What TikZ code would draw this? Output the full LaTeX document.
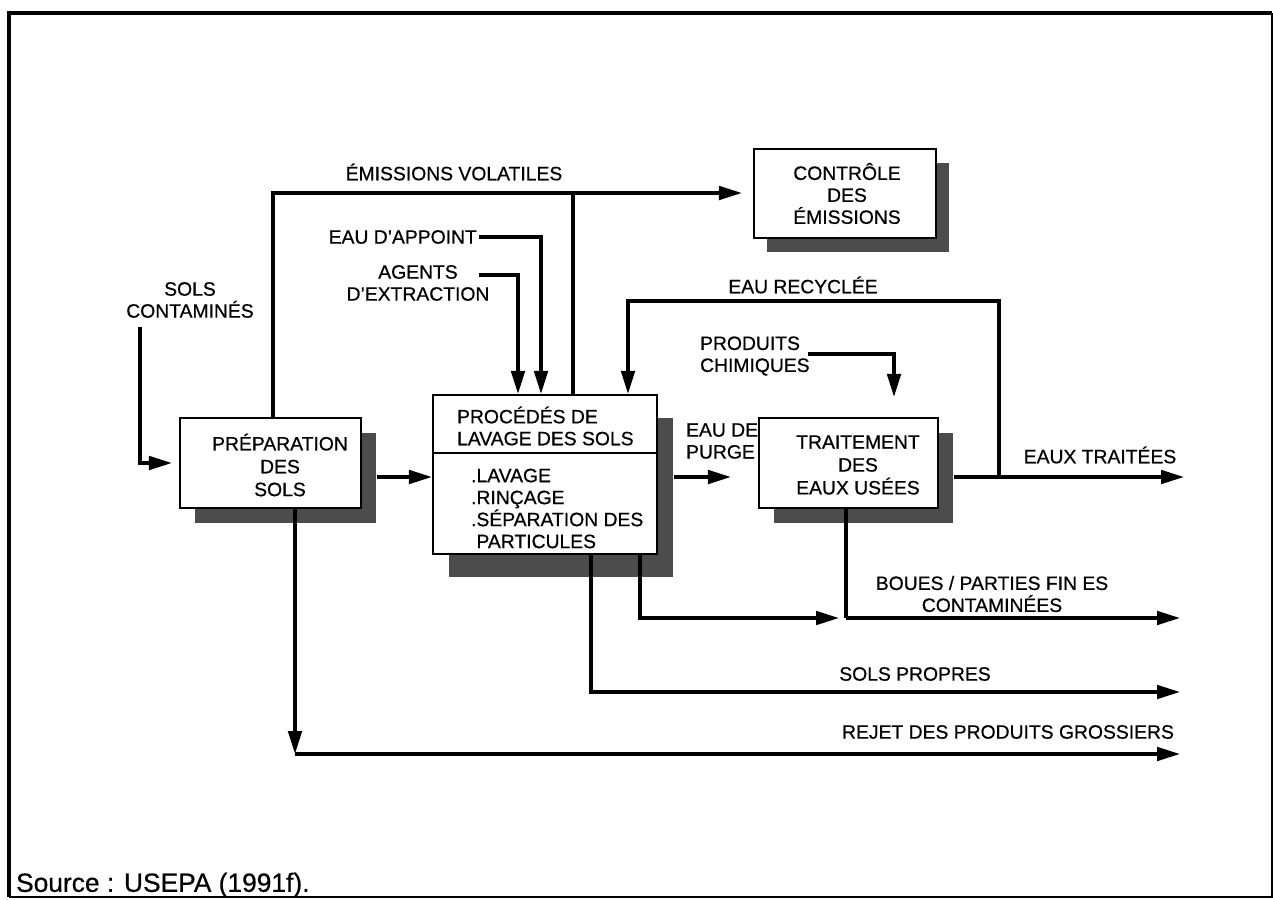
\documentclass[tikz,border=0pt]{standalone}
\usepackage{fontspec}
\setmainfont{Liberation Sans}[FakeBold=0.6]
\usepackage{tikz}
\usetikzlibrary{arrows.meta,shadows,calc}

\begin{document}
\begin{tikzpicture}[x=0.02cm, y=-0.02cm,
  boite/.style={rectangle, draw, line width=1.2pt, fill=white, inner sep=0pt},
  ombre/.style 2 args={drop shadow={shadow xshift=#1, shadow yshift=-#2, fill=black!70, opacity=1}},
  txt/.style={inner sep=1pt, align=center, font=\fontsize{11}{12.5}\selectfont},
  txtboite/.style={txt, font=\fontsize{11}{13}\selectfont},
  ligne/.style={line width=1.9pt},
  flux/.style={line width=1.9pt, -{Triangle[length=0.46cm, width=0.27cm]}}]
\useasboundingbox (0,0) rectangle (1273,899);

\coordinate (cadreA) at (9,897);
\coordinate (cadreB) at (9,13);
\coordinate (cadreC) at (1272,13);
\coordinate (cadreD) at (1272,897);
\draw[line width=2.3pt] (cadreA) -- (cadreB) -- (cadreC);
\draw[line width=0.8pt] (cadreC) -- (cadreD) -- (cadreA);

\node[boite, ombre={0.3cm}{0.3cm}, minimum width=3.62cm, minimum height=1.8cm] (preparation) at (270.5,463) {};
\node[boite, ombre={0.32cm}{0.46cm}, minimum width=4.48cm, minimum height=3.18cm] (lavage) at (545,474.5) {};
\node[boite, ombre={0.3cm}{0.3cm}, minimum width=3.58cm, minimum height=1.8cm] (traitement) at (848.5,463) {};
\node[boite, ombre={0.26cm}{0.28cm}, minimum width=3.64cm, minimum height=1.78cm] (controle) at (845,193.5) {};
\draw[line width=1.2pt] ($(lavage.north west)+(0,59)$) -- ($(lavage.north east)+(0,59)$);

\node[txtboite] (txtprep) at (280,465) {PRÉPARATION\\DES\\SOLS};
\node[txtboite] (txttrait) at (858,465) {TRAITEMENT\\DES\\EAUX USÉES};
\node[txt] (txtcontrole) at (847,193.5) {CONTRÔLE\\DES\\ÉMISSIONS};
\node[txt, align=left, anchor=west] (txtlavage) at (455,426) {PROCÉDÉS DE\\LAVAGE DES SOLS};
\node[txt, align=left, anchor=west] (txtetapes) at (469,508.5) {.LAVAGE\\.RINÇAGE\\.SÉPARATION DES\\\phantom{.}PARTICULES};

\node[txt] (emissions) at (454,172) {ÉMISSIONS VOLATILES};
\node[txt, anchor=east] (appoint) at (479,237) {EAU D'APPOINT};
\node[txt] (agents) at (418,283) {AGENTS\\D'EXTRACTION};
\node[txt] (sols) at (190,300) {SOLS\\CONTAMINÉS};
\node[txt] (recyclee) at (803,285) {EAU RECYCLÉE};
\node[txt, align=left, anchor=west] (chimiques) at (698,356) {PRODUITS\\CHIMIQUES};
\node[txt, align=left, anchor=west] (purge) at (684,441) {EAU DE\\PURGE};
\node[txt] (traitees) at (1100,455) {EAUX TRAITÉES};
\node[txt] (boues) at (992,594) {BOUES / PARTIES FIN ES\\CONTAMINÉES};
\node[txt] (propres) at (915,674) {SOLS PROPRES};
\node[txt] (rejet) at (1008,732) {REJET DES PRODUITS GROSSIERS};
\node[txt, anchor=west, font=\fontsize{15}{18}\selectfont] (source) at (14,885) {Source : USEPA (1991f).};

\coordinate (rang) at (0,477);
\coordinate (emA) at (273,193);
\coordinate (emB) at (573,193);
\coordinate (apA) at (541,238);
\coordinate (agA) at (479,275);
\coordinate (agB) at (518,275);
\coordinate (soA) at (140,327);
\coordinate (sortie) at (1184,477);
\coordinate (reA) at (999,301);
\coordinate (reB) at (628,301);
\coordinate (chA) at (808,354);
\coordinate (chB) at (894,354);
\coordinate (boA) at (640,618);
\coordinate (boJ) at (846,618);
\coordinate (boZ) at (1180,618);
\coordinate (prA) at (591,692);
\coordinate (prZ) at (1180,692);
\coordinate (rjA) at (295,754);
\coordinate (rjZ) at (1180,754);

\draw[flux, shorten >=0.22cm] (preparation.north -| emA) -- (emA) -- (controle.west |- emA);
\draw[ligne] (lavage.north -| emB) -- (emB);
\draw[flux] (appoint.east) -| (lavage.north -| apA);
\draw[flux] (agA) -| (lavage.north -| agB);
\draw[flux, shorten >=0.14cm] (soA) |- (preparation.west);
\draw[flux, shorten <=0.3cm] (preparation.east |- rang) -- (lavage.west |- rang);
\draw[flux, shorten <=0.32cm, shorten >=0.54cm] (lavage.east |- rang) -- (traitement.west |- rang);
\draw[flux, shorten <=0.3cm] (traitement.east |- rang) -- (sortie);
\draw[flux] (reA |- rang) -- (reA) -- (reB) -- (lavage.north -| reB);
\draw[flux, shorten >=0.4cm] (chA) -- (chB) -- (traitement.north -| chB);
\draw[ligne] (traitement.south -| boJ) -- (boJ);
\draw[flux, shorten >=0.14cm] (lavage.south -| boA) -- (boA) -- (boJ);
\draw[flux] (boJ) -- (boZ);
\draw[flux] (lavage.south -| prA) -- (prA) -- (prZ);
\draw[flux] (preparation.south -| rjA) -- (rjA);
\draw[flux] (rjA) -- (rjZ);
\end{tikzpicture}
\end{document}
